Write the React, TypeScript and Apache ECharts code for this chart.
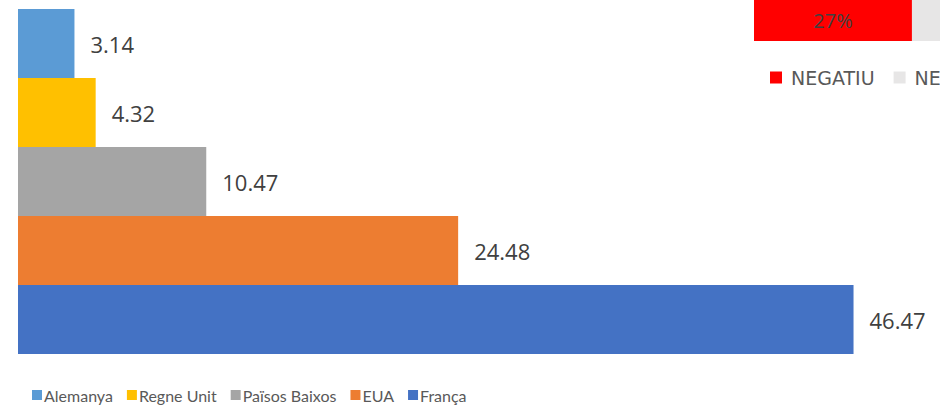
import React, { useEffect, useRef } from "react";
import * as echarts from "echarts";

const categories = ["Alemanya", "Regne Unit", "Països Baixos", "EUA", "França"];
const values = [3.14, 4.32, 10.47, 24.48, 46.47];
const colors = ["#5B9BD5", "#FFC000", "#A5A5A5", "#ED7D31", "#4472C4"];

const sideNames = ["NEGATIU", "NEUTRE"];
const sideValues = [27, 40];
const sideColors = ["#FF0000", "#E7E6E6"];

export default function App() {
  const ref = useRef<HTMLDivElement>(null);
  useEffect(() => {
    document.body.style.margin = "0";
    const chart = echarts.init(ref.current!, null, { renderer: "svg" });
    const mainSeries = categories.map((name, i) => ({
      name,
      type: "bar",
      stack: "main",
      xAxisIndex: 0,
      yAxisIndex: 0,
      barCategoryGap: 0,
      itemStyle: { color: colors[i] },
      label: {
        show: true,
        position: "right",
        distance: 16,
        color: "#404040",
        fontSize: 22,
        fontFamily: "Open Sans",
        formatter: (p: any) => Number(p.value).toFixed(2),
      },
      data: categories.map((_, j) => (j === i ? values[i] : "-")),
    }));
    const sideSeries = sideNames.map((name, i) => ({
      name,
      type: "bar",
      stack: "side",
      xAxisIndex: 1,
      yAxisIndex: 1,
      barWidth: "100%",
      itemStyle: { color: sideColors[i] },
      label: {
        show: i === 0,
        position: "inside",
        color: "#404040",
        fontSize: 20,
        fontFamily: "Open Sans",
        formatter: "{c}%",
      },
      data: [sideValues[i]],
    }));
    chart.setOption({
      animation: false,
      grid: [
        { left: 18, top: 9, width: 899, height: 345, outerBoundsMode: "none" },
        { left: 754, top: 0, width: 585, height: 41, outerBoundsMode: "none" },
      ],
      xAxis: [
        { type: "value", gridIndex: 0, min: 0, max: 50, show: false },
        { type: "value", gridIndex: 1, min: 0, max: 100, show: false },
      ],
      yAxis: [
        { type: "category", gridIndex: 0, data: categories, inverse: true, show: false },
        { type: "category", gridIndex: 1, data: ["s"], show: false },
      ],
      legend: [
        {
          data: categories,
          left: 27,
          top: 382,
          width: 900,
          icon: "rect",
          itemWidth: 10,
          itemHeight: 10,
          itemGap: 14,
          textStyle: {
            fontSize: 16,
            color: "#595959",
            fontFamily: "Lato",
            padding: [0, 0, 0, -3],
          },
        },
        {
          data: sideNames,
          orient: "horizontal",
          left: 765,
          top: 63,
          width: 400,
          icon: "rect",
          itemWidth: 12,
          itemHeight: 12,
          itemGap: 19,
          textStyle: {
            fontSize: 19,
            color: "#595959",
            fontFamily: "DejaVu Sans",
            padding: [0, 0, 0, 4],
          },
        },
      ],
      series: [...mainSeries, ...sideSeries],
    });
    return () => chart.dispose();
  }, []);
  return <div ref={ref} style={{ width: 940, height: 409 }} />;
}
